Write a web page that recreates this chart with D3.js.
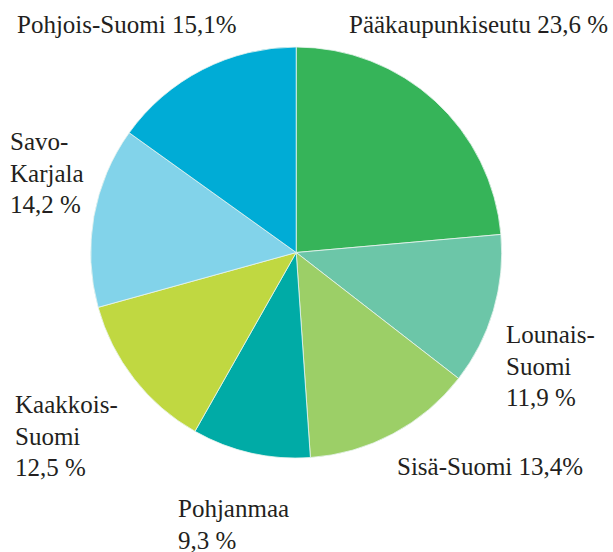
<!DOCTYPE html>
<html>
<head>
<meta charset="utf-8">
<script src="https://cdn.jsdelivr.net/npm/d3@7"></script>
<style>
  html, body { margin: 0; padding: 0; background: #fff; }
  svg { display: block; }
  .lbl { font-family: "Liberation Serif", "DejaVu Serif", "Times New Roman", serif; }
</style>
</head>
<body>
<svg id="chart"></svg>
<script>
// Regions and their shares, clockwise from 12 o'clock
const REGIONS = ["Pääkaupunkiseutu", "Lounais-Suomi", "Sisä-Suomi", "Pohjanmaa", "Kaakkois-Suomi", "Savo-Karjala", "Pohjois-Suomi"];
const SHARES  = [23.6, 11.9, 13.4, 9.3, 12.5, 14.2, 15.1];
const COLORS  = ["#36b459", "#6cc6a8", "#9ccf67", "#00aba6", "#c0d841", "#82d3ea", "#00acd6"];

// Label lines as printed (line breaks kept as in the original)
const LABEL_LINES = [
  ["Pääkaupunkiseutu 23,6 %"],
  ["Lounais-", "Suomi", "11,9 %"],
  ["Sisä-Suomi 13,4%"],
  ["Pohjanmaa", "9,3 %"],
  ["Kaakkois-", "Suomi", "12,5 %"],
  ["Savo-", "Karjala", "14,2 %"],
  ["Pohjois-Suomi 15,1%"]
];

const W = 613, H = 552;
const cx = 296.2, cy = 252.5, R = 205.5;

const svg = d3.select("#chart").attr("width", W).attr("height", H);

// ── Pie ───────────────────────────────────────────────────────
const pie = d3.pie().sort(null).value(d => d)(SHARES);
const arc = d3.arc().innerRadius(0).outerRadius(R);

svg.append("g")
  .attr("transform", `translate(${cx},${cy})`)
  .selectAll("path").data(pie).join("path")
  .attr("d", arc)
  .attr("fill", (d, i) => COLORS[i])
  .attr("stroke", "#e8f4ef")
  .attr("stroke-width", 0.8);

// ── Labels ────────────────────────────────────────────────────
// Anchor point (x, first baseline) and anchor for each label
const labelPos = [
  { x: 608, y: 33,  anchor: "end" },
  { x: 506, y: 343, anchor: "start" },
  { x: 397, y: 475, anchor: "start" },
  { x: 178, y: 517, anchor: "start" },
  { x: 15,  y: 413, anchor: "start" },
  { x: 10,  y: 150, anchor: "start" },
  { x: 17,  y: 33,  anchor: "start" }
];
const lineH = 31.5;

LABEL_LINES.forEach((lines, i) => {
  const p = labelPos[i];
  const t = svg.append("text")
    .attr("class", "lbl")
    .attr("x", p.x).attr("y", p.y)
    .attr("text-anchor", p.anchor)
    .attr("fill", "#231f20")
    .attr("font-size", "25px");
  lines.forEach((ln, j) => {
    t.append("tspan").attr("x", p.x).attr("y", p.y + j * lineH).text(ln);
  });
});
</script>
</body>
</html>
